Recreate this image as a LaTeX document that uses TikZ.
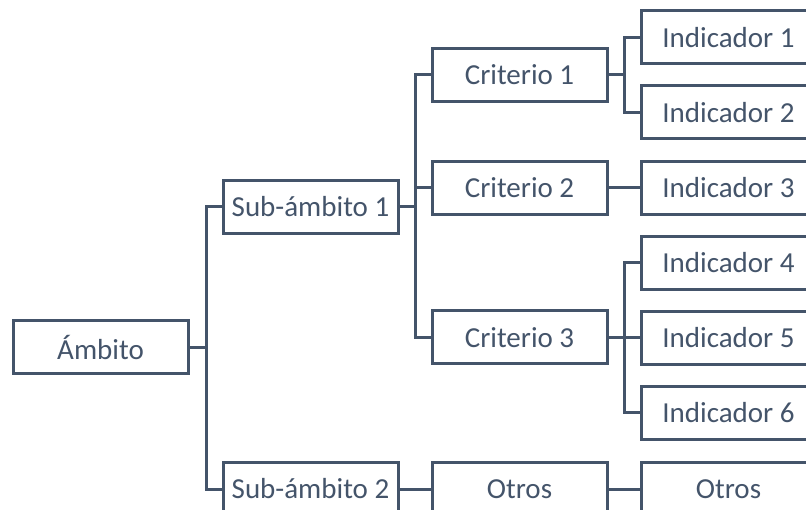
\documentclass[tikz,border=0pt]{standalone}
\usepackage{fontspec}
\setmainfont{Carlito}
\definecolor{c}{HTML}{44546A}
\begin{document}
\begin{tikzpicture}[x=1pt,y=-1pt,
  box/.style={draw=c, line width=3pt, minimum width=175pt, minimum height=53pt,
    inner sep=0pt, outer sep=0pt, text=c, font=\fontsize{29}{35}\selectfont},
  conn/.style={draw=c, line width=3pt}]
\useasboundingbox (0,0) rectangle (806,510);
\clip (0,0) rectangle (806,510);
\node[box] (amb) at (100.5,347.5) {Ámbito};
\node[box] (s1) at (310.5,207) {Sub-ámbito 1};
\node[box] (s2) at (310.5,489) {Sub-ámbito 2};
\node[box] (c1) at (519.5,75) {Criterio 1};
\node[box] (c2) at (519.5,188) {Criterio 2};
\node[box] (c3) at (519.5,337.5) {Criterio 3};
\node[box] (o1) at (519.5,489) {Otros};
\node[box] (i1) at (728.5,37.5) {Indicador 1};
\node[box] (i2) at (728.5,112.5) {Indicador 2};
\node[box] (i3) at (728.5,188) {Indicador 3};
\node[box] (i4) at (728.5,263) {Indicador 4};
\node[box] (i5) at (728.5,338) {Indicador 5};
\node[box] (i6) at (728.5,413) {Indicador 6};
\node[box] (o2) at (728.5,489) {Otros};
% Ambito to sub-ambitos
\draw[conn] (amb.east) -- ++(18,0);
\draw[conn] (s1.west) -- ++(-17,0) |- (s2.west);
% Sub-ambito 1 to criterios
\draw[conn] (s1.east) -- ++(17,0);
\draw[conn] (c1.west) -- ++(-17,0) |- (c3.west);
\draw[conn] (c2.west) -- ++(-17,0);
% Criterio 1
\draw[conn] (c1.east) -- ++(17,0);
\draw[conn] (i1.west) -- ++(-17,0) |- (i2.west);
% Criterio 2
\draw[conn] (c2.east) -- (i3.west);
% Criterio 3
\draw[conn] (c3.east) -- ++(17,0);
\draw[conn] (i4.west) -- ++(-17,0) |- (i6.west);
\draw[conn] (i5.west) -- ++(-17,0);
% Otros
\draw[conn] (s2.east) -- (o1.west);
\draw[conn] (o1.east) -- (o2.west);
\end{tikzpicture}
\end{document}
